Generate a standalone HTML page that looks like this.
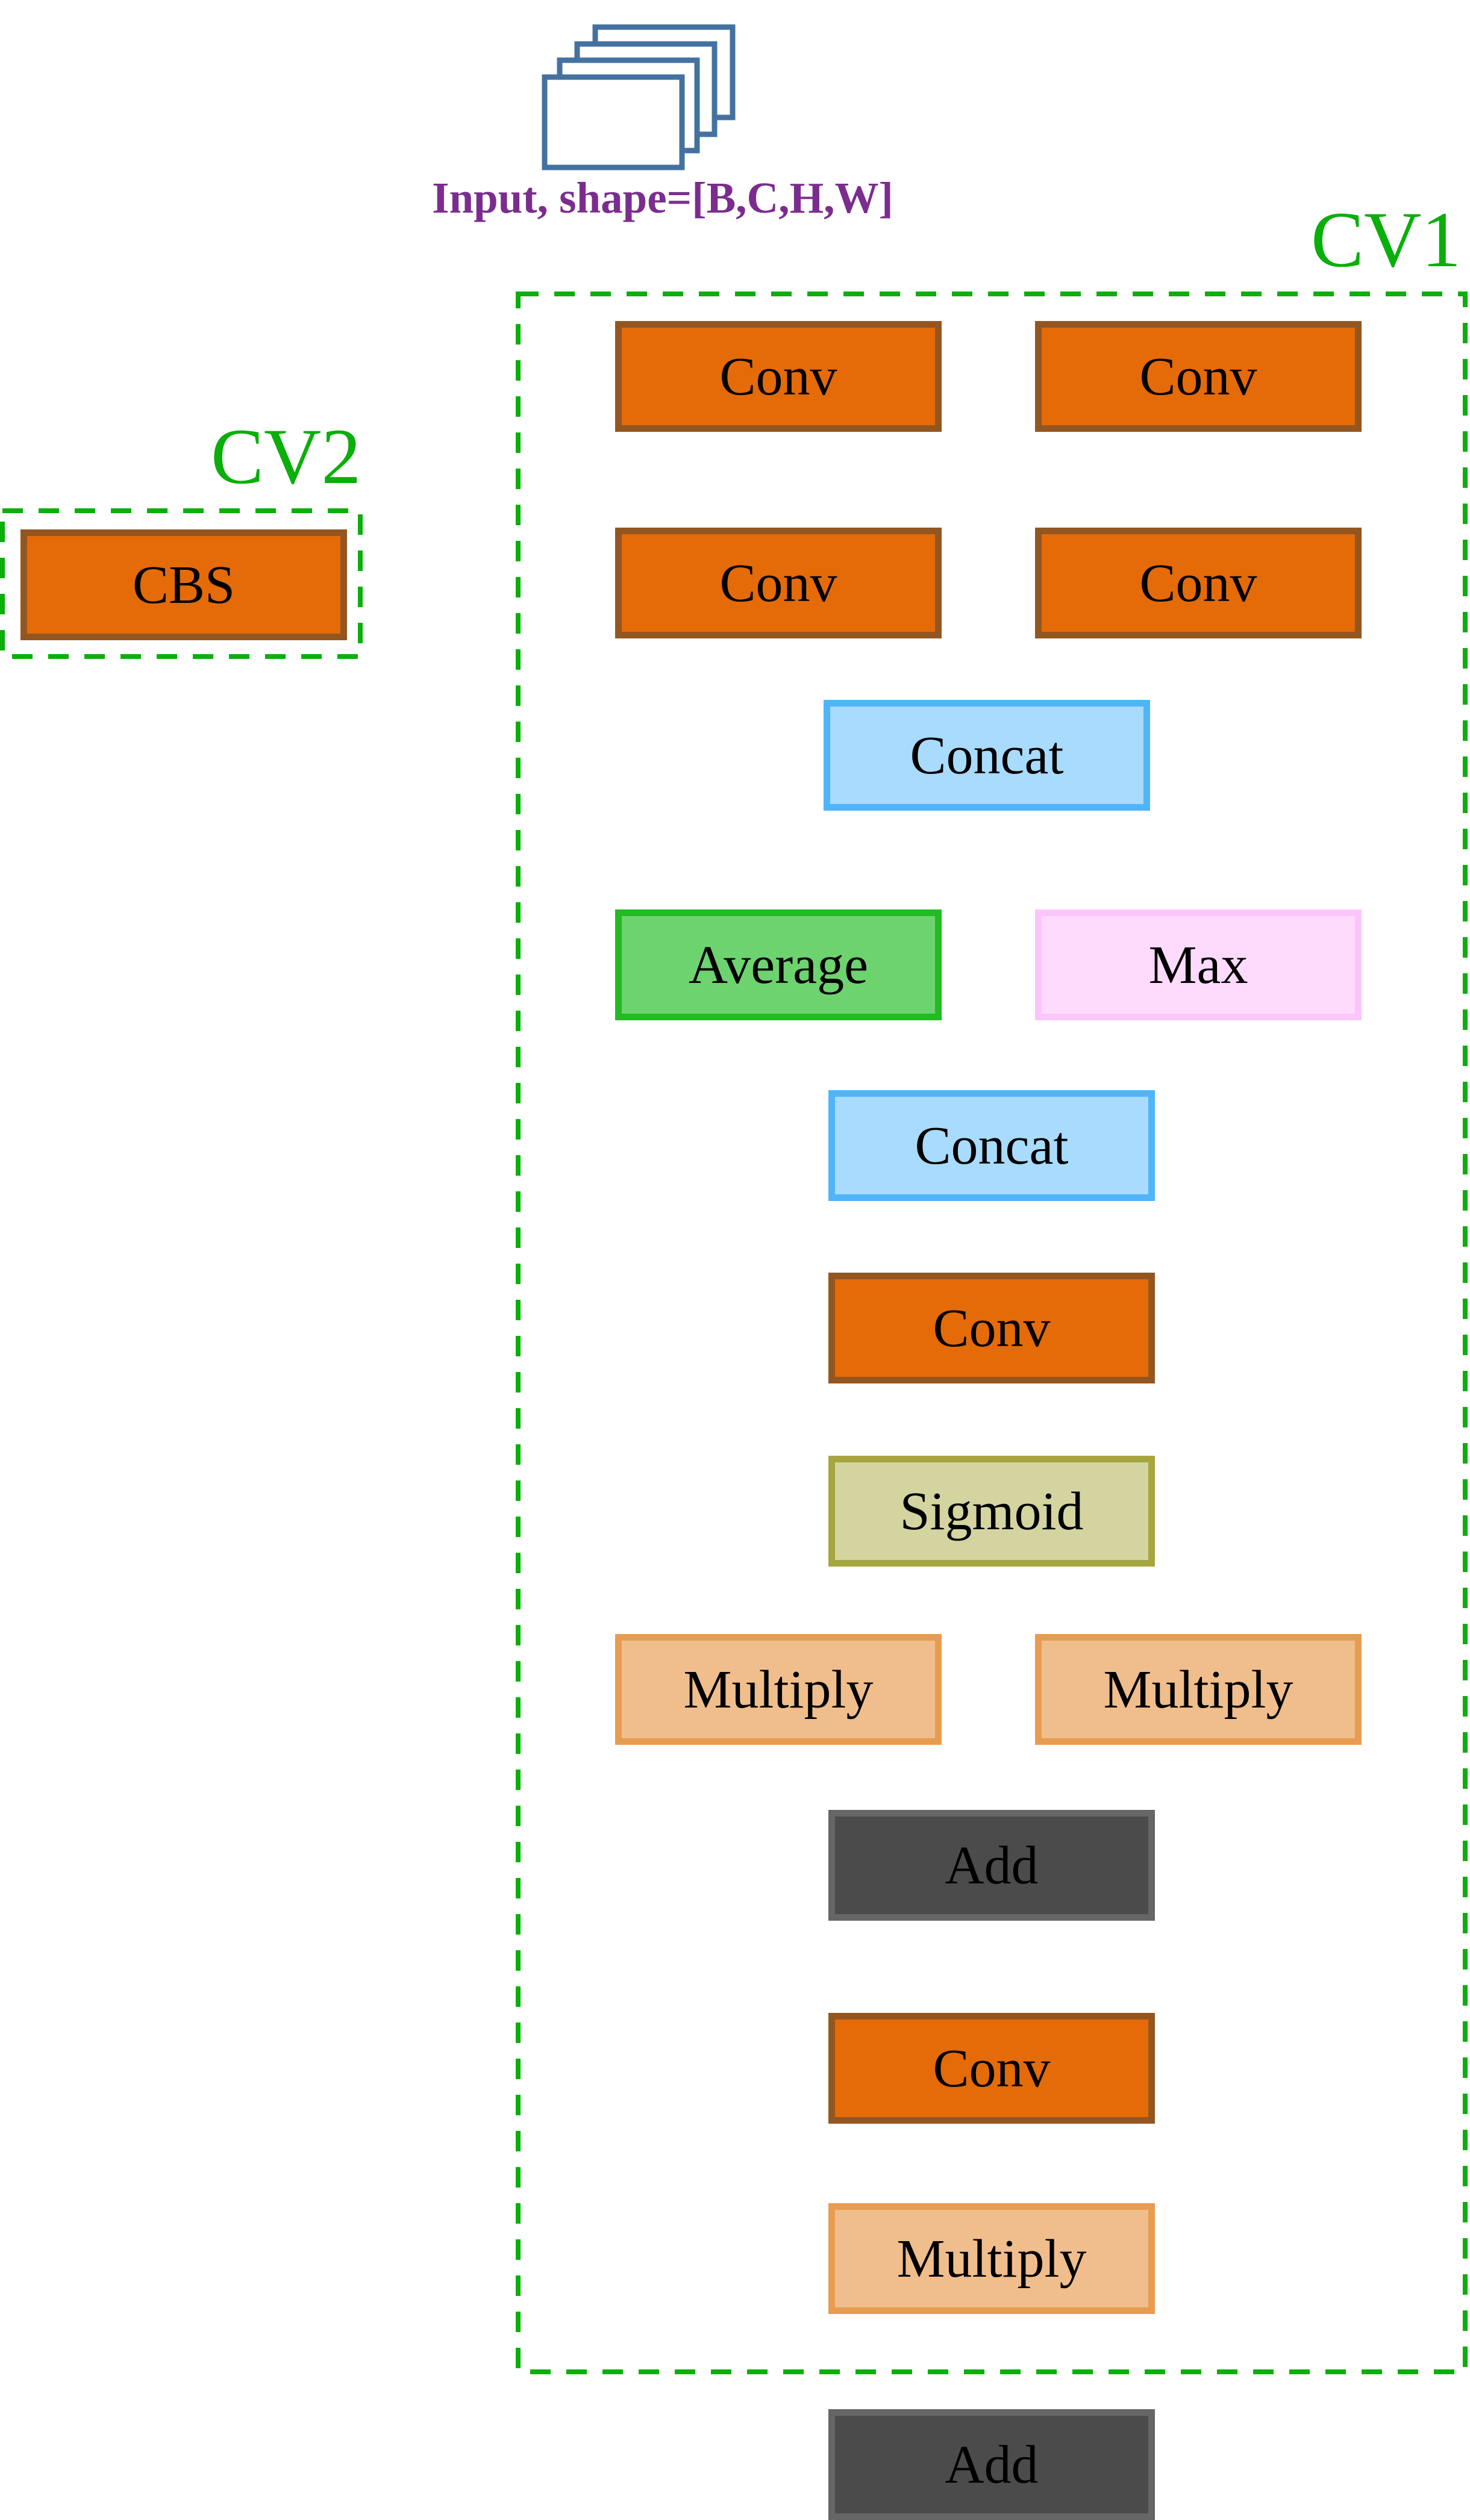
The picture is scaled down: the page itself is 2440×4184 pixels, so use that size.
<!DOCTYPE html>
<html><head><meta charset="utf-8"><style>
html,body{margin:0;padding:0;background:#fff;}
body{width:2440px;height:4184px;position:relative;overflow:hidden;font-family:"Liberation Serif",serif;}
.n{position:absolute;box-sizing:border-box;width:542px;height:184px;border:11px solid;display:flex;align-items:center;justify-content:center;font-size:90px;color:#000;}
.conv{background:#e56a08;border-color:#945620;}
.cat{background:#a8dbfd;border-color:#50b5f8;}
.avg{background:#6dd36f;border-color:#22bb22;}
.max{background:#fedbfd;border-color:#fcc5fa;}
.sig{background:#d4d4a0;border-color:#a6a640;}
.mul{background:#f0be8c;border-color:#e89c50;}
.add{background:#4b4b4b;border-color:#666;}
.lbl{position:absolute;color:#0aaf0a;font-size:132px;line-height:1;}
</style></head><body>
<svg style="position:absolute;left:0;top:0" width="2440" height="4184">
<g fill="#fff" stroke="#4472a0" stroke-width="9">
<rect x="988" y="45" width="228" height="150"/>
<rect x="958" y="73" width="228" height="150"/>
<rect x="929" y="100" width="228" height="150"/>
<rect x="904" y="128" width="228" height="150"/>
</g>
<rect x="860" y="488" width="1572" height="3450" fill="none" stroke="#0aaf0a" stroke-width="8" stroke-dasharray="34 26"/>
<rect x="4" y="848" width="594" height="242" fill="none" stroke="#0aaf0a" stroke-width="8" stroke-dasharray="34 26"/>
</svg>
<div style="position:absolute;left:600px;width:1000px;top:292px;text-align:center;font-weight:bold;color:#7b2d8e;font-size:73px;line-height:1;">Input, shape=[B,C,H,W]</div>
<div class="lbl" style="left:2176px;top:332px;">CV1</div>
<div class="lbl" style="left:350px;top:692px;">CV2</div>

<div class="n conv" style="left:34px;top:879px;">CBS</div>

<div class="n conv" style="left:1021px;top:533px;">Conv</div>
<div class="n conv" style="left:1718px;top:533px;">Conv</div>
<div class="n conv" style="left:1021px;top:876px;">Conv</div>
<div class="n conv" style="left:1718px;top:876px;">Conv</div>
<div class="n cat" style="left:1367px;top:1162px;">Concat</div>
<div class="n avg" style="left:1021px;top:1510px;">Average</div>
<div class="n max" style="left:1718px;top:1510px;">Max</div>
<div class="n cat" style="left:1375px;top:1810px;">Concat</div>
<div class="n conv" style="left:1375px;top:2113px;">Conv</div>
<div class="n sig" style="left:1375px;top:2417px;">Sigmoid</div>
<div class="n mul" style="left:1021px;top:2713px;">Multiply</div>
<div class="n mul" style="left:1718px;top:2713px;">Multiply</div>
<div class="n add" style="left:1375px;top:3005px;">Add</div>
<div class="n conv" style="left:1375px;top:3342px;">Conv</div>
<div class="n mul" style="left:1375px;top:3658px;">Multiply</div>
<div class="n add" style="left:1375px;top:4000px;">Add</div>
</body></html>
